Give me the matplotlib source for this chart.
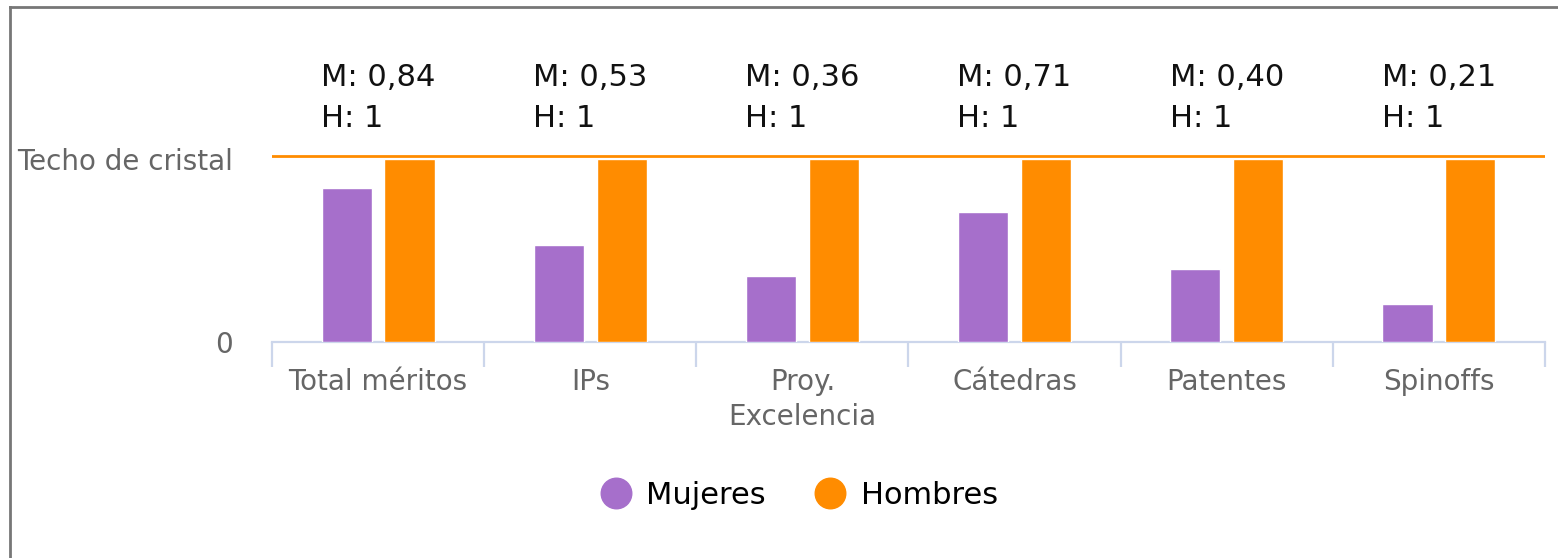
import numpy as np
import matplotlib.pyplot as plt
from matplotlib.lines import Line2D
from matplotlib import transforms

# data
categorias = ["Total méritos", "IPs", "Proy.\nExcelencia", "Cátedras", "Patentes", "Spinoffs"]
mujeres = [0.84, 0.53, 0.36, 0.71, 0.40, 0.21]
hombres = [1, 1, 1, 1, 1, 1]
etiquetas_m = ["0,84", "0,53", "0,36", "0,71", "0,40", "0,21"]
etiquetas_h = ["1", "1", "1", "1", "1", "1"]

color_m = "#a66fcb"
color_h = "#ff8c00"
color_eje = "#ccd6eb"
gris = "#666666"

fig = plt.figure(figsize=(15.58, 5.58), dpi=100)
ax = fig.add_axes([272 / 1558, 216 / 558, (1545 - 272) / 1558, 212 / 558])

x = np.arange(len(categorias))
ancho = 0.236
ax.bar(x - 0.148, mujeres, ancho, color=color_m, edgecolor="white", linewidth=1, label="Mujeres", zorder=3)
ax.bar(x + 0.148, hombres, ancho, color=color_h, edgecolor="white", linewidth=1, label="Hombres", zorder=3)

# techo de cristal
ax.axhline(1.015, color=color_h, linewidth=2, zorder=4)

ax.set_xlim(-0.5, len(categorias) - 0.5)
ax.set_ylim(0, 212 / 183)

# ejes
for s in ["top", "right", "left"]:
    ax.spines[s].set_visible(False)
ax.spines["bottom"].set_color(color_eje)
ax.spines["bottom"].set_linewidth(1.6)

ax.set_yticks([0, 1])
ax.set_yticklabels(["0", "Techo de cristal"], fontsize=20, color=gris)
ax.tick_params(axis="y", length=0, pad=28)

ax.set_xticks(x)
ax.set_xticklabels(categorias, fontsize=20, color=gris, linespacing=1.3)
ax.tick_params(axis="x", which="major", length=0, pad=19)
ax.set_xticks(np.arange(len(categorias) + 1) - 0.5, minor=True)
ax.tick_params(axis="x", which="minor", length=18, width=1.6, color=color_eje)

# anotaciones encima
trans = transforms.blended_transform_factory(ax.transData, fig.transFigure)
for i in range(len(categorias)):
    ax.text(x[i], 460 / 558, f"M: {etiquetas_m[i]}\nH: {etiquetas_h[i]}",
            transform=trans, ha="center", va="center", multialignment="left",
            fontsize=22, family="DejaVu Sans", linespacing=1.5, color="#111111", clip_on=False)

# leyenda
handles = [Line2D([], [], marker="o", linestyle="", markersize=22, color=color_m),
           Line2D([], [], marker="o", linestyle="", markersize=22, color=color_h)]
fig.legend(handles, ["Mujeres", "Hombres"], loc="center", bbox_to_anchor=(799 / 1558, 1 - 495 / 558),
           ncol=2, frameon=False, fontsize=22, handletextpad=0.5, columnspacing=1.6, handlelength=1.0)

# marco
fig.add_artist(Line2D([10 / 1558, 10 / 1558], [0, 1 - 7 / 558], transform=fig.transFigure, color="#777777", linewidth=2))
fig.add_artist(Line2D([10 / 1558, 1], [1 - 7 / 558, 1 - 7 / 558], transform=fig.transFigure, color="#777777", linewidth=2))

fig.savefig("out.png", dpi=100, facecolor="white")
